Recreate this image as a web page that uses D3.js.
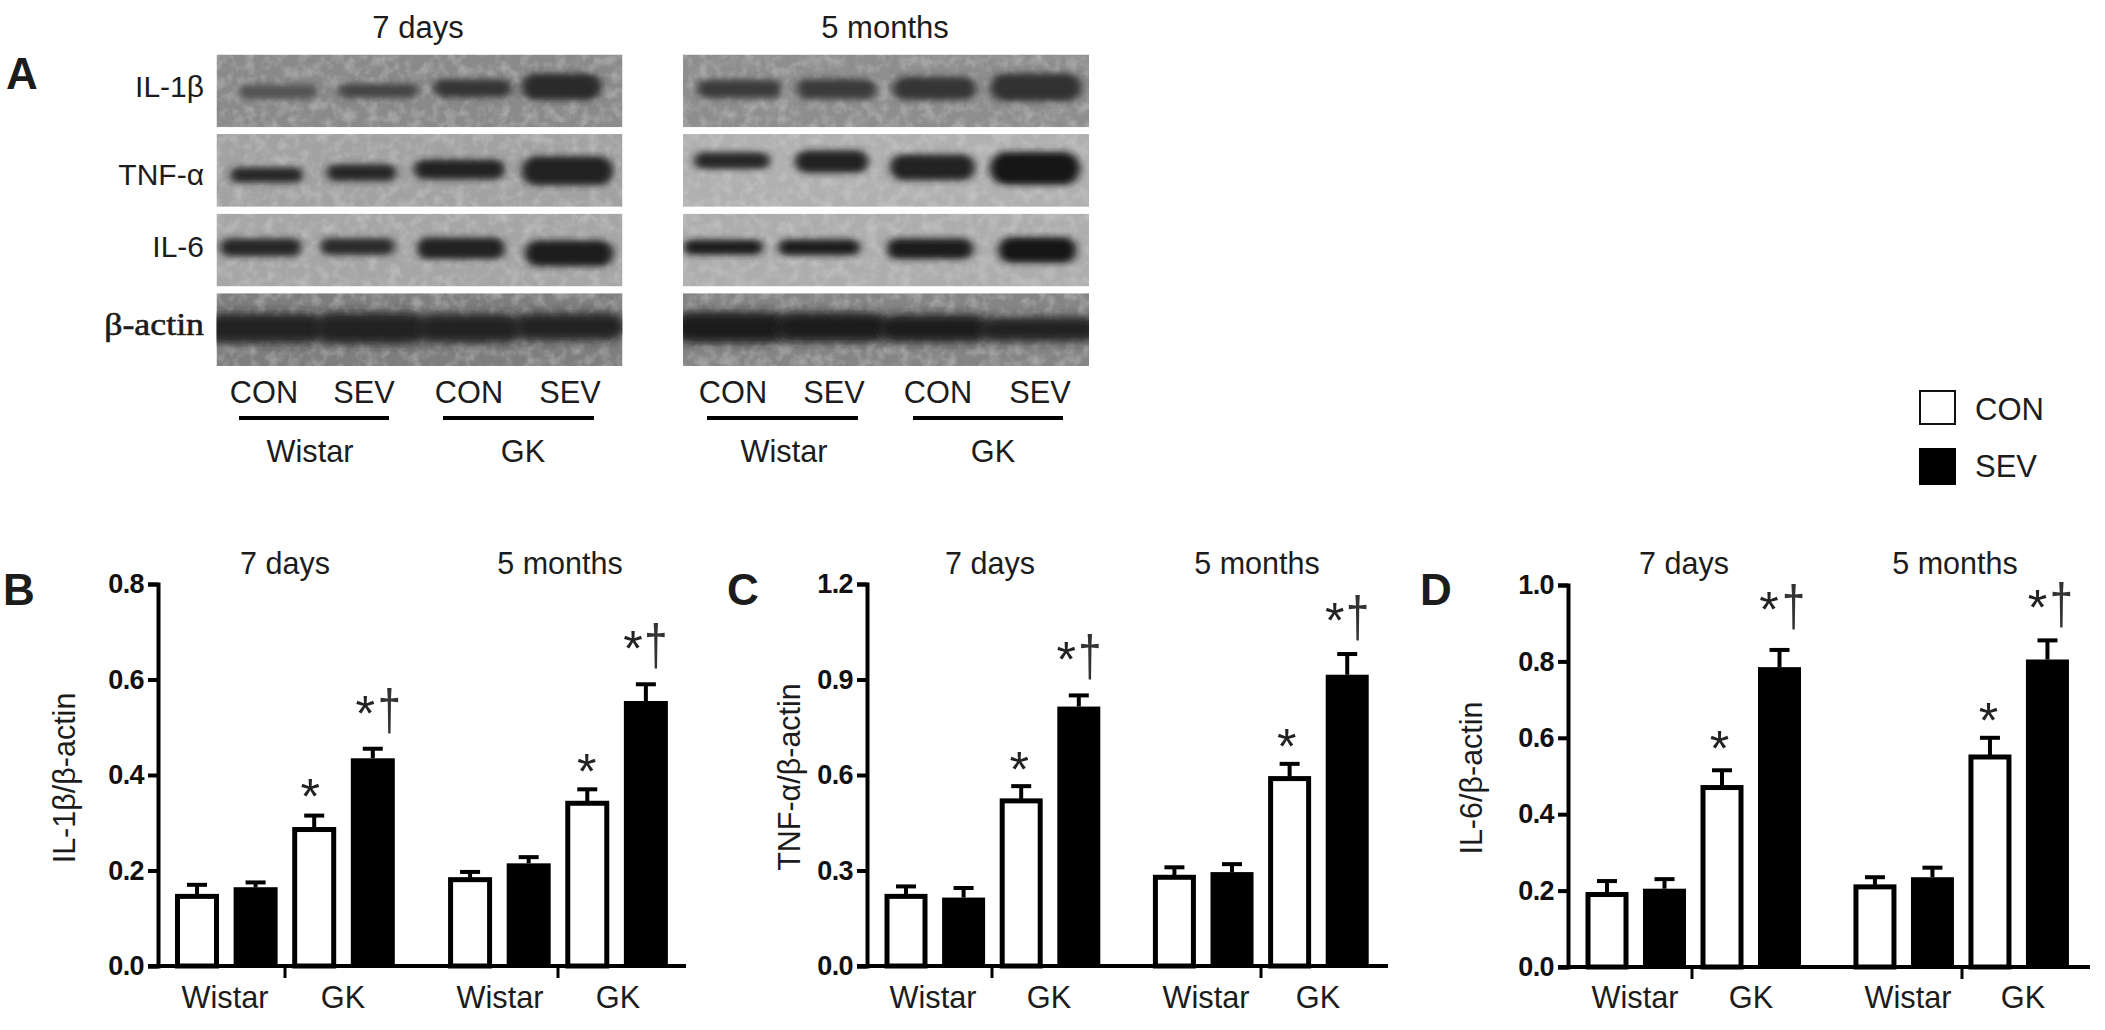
<!DOCTYPE html>
<html><head><meta charset="utf-8">
<script src="https://cdn.jsdelivr.net/npm/d3@7"></script>
<style>
html,body{margin:0;padding:0;background:#fff}
svg{display:block}
text{fill:#1c1c1c}
.tick text{font-family:"Liberation Sans",Arial,sans-serif;font-weight:bold;font-size:27px;letter-spacing:-0.6px;fill:#111}
</style></head><body>
<svg id="c" width="2105" height="1030"></svg>
<script>
// ---- data ----
const groups = ["Wistar","GK","Wistar","GK"];
const periods = ["7 days","5 months"];
const treatments = ["CON","SEV"];
const ilbetaMean = [0.15,0.165,0.29,0.435,0.185,0.215,0.345,0.555];
const ilbetaTop  = [0.17,0.175,0.315,0.455,0.197,0.228,0.37,0.59];
const tnfMean = [0.225,0.215,0.525,0.815,0.285,0.295,0.595,0.915];
const tnfTop  = [0.25,0.245,0.565,0.85,0.31,0.32,0.635,0.98];
const il6Mean = [0.195,0.205,0.475,0.785,0.215,0.235,0.555,0.805];
const il6Top  = [0.225,0.23,0.515,0.83,0.235,0.26,0.6,0.855];
const sigMarks = ["","","*","*†","","","*","*†"];
const ilbetaTicks = [0,0.2,0.4,0.6,0.8];
const tnfTicks = [0,0.3,0.6,0.9,1.2];
const il6Ticks = [0,0.2,0.4,0.6,0.8,1.0];
const blotRows = ["IL-1β","TNF-α","IL-6","β-actin"];
// band strength per lane (0-1)
const bandsDays = [[0.28,0.42,0.58,0.68],[0.72,0.72,0.75,0.76],[0.72,0.68,0.76,0.82],[0.78,0.78,0.78,0.76]];
const bandsMonths = [[0.52,0.52,0.58,0.6],[0.7,0.76,0.78,0.9],[0.82,0.82,0.82,0.88],[0.8,0.8,0.8,0.78]];

// ---- layout (not data) ----
const bgDays = ["#8a8a8a","#a2a2a2","#a6a6a6","#7e7e7e"];
const bgMonths = ["#8e8e8e","#b0b0b0","#adadad","#858585"];
// band boxes [left,right,centre,height] in blot-crop units (3 units = 1px)
const boxesDays = [
 [[85,325,125,30],[385,625,122,30],[670,905,115,38],[935,1175,110,55]],
 [[60,280,375,32],[350,560,368,36],[612,885,358,42],[935,1210,362,62]],
 [[30,275,592,38],[330,555,590,36],[620,885,595,46],[945,1210,610,55]],
 [[-20,345,835,72],[315,655,835,76],[625,935,835,70],[910,1245,830,66]]];
const boxesMonths = [
 [[50,305,117,38],[350,590,117,42],[638,890,115,48],[930,1205,112,58]],
 [[42,270,332,36],[345,565,335,48],[630,885,352,55],[930,1200,355,70]],
 [[10,250,592,32],[295,540,592,34],[620,880,596,44],[955,1190,600,55]],
 [[-20,320,832,76],[285,625,832,72],[595,925,835,68],[895,1260,838,60]]];

const svg = d3.select("#c");
const defs = svg.append("defs");
const f = defs.append("filter").attr("id","noise").attr("x",0).attr("y",0).attr("width","100%").attr("height","100%");
f.append("feTurbulence").attr("type","fractalNoise").attr("baseFrequency",0.09).attr("numOctaves",3).attr("seed",4).attr("result","n");
f.append("feColorMatrix").attr("in","n").attr("type","matrix").attr("values","0 0 0 0 0.8 0 0 0 0 0.8 0 0 0 0 0.8 0.6 0 0 0 -0.25").attr("result","g");
f.append("feMerge").call(m=>{m.append("feMergeNode").attr("in","SourceGraphic");m.append("feMergeNode").attr("in","g");});
const blur = defs.append("filter").attr("id","soft").attr("x","-20%").attr("y","-80%").attr("width","140%").attr("height","260%");
blur.append("feGaussianBlur").attr("stdDeviation","4 3");
const blurWide = defs.append("filter").attr("id","softWide").attr("x","-20%").attr("y","-60%").attr("width","140%").attr("height","220%");
blurWide.append("feGaussianBlur").attr("stdDeviation","5 5");

function label(x,y,t,o={}){
  const sx=o.sx||1;
  return svg.append("text").attr("text-anchor",o.anchor||"middle")
    .attr("font-size",o.size||32).attr("font-weight",o.weight||"normal")
    .style("font-family",o.family||'"Liberation Sans",Arial,sans-serif')
    .style("fill",o.color||null).attr("stroke",o.stroke||null).attr("stroke-width",o.stroke?0.6:null)
    .attr("transform",`translate(${x},${y})${o.rot?" rotate(-90)":""} scale(${sx},1)`).text(t);
}
const TXT={size:32,sx:0.96};

// ---- panel A: blots ----
const rowY = d3.scaleBand().domain(blotRows).range([54.5,366]).paddingInner(0.085);
const blots = [
 {x0:216.5,x1:622.5,crop:210,boxes:boxesDays,vals:bandsDays,bg:bgDays},
 {x0:683,x1:1089,crop:680,boxes:boxesMonths,vals:bandsMonths,bg:bgMonths}];
const shade = d3.scaleLinear().domain([0,1]).range(["#6e6e6e","#0a0a0a"]);
const cropY = d3.scaleLinear().domain([0,960]).range([50,370]);
const thick = {"IL-1β":1.45,"TNF-α":1.4,"IL-6":1.4,"β-actin":1.25};
blots.forEach((b,bi)=>{
  const cropX = d3.scaleLinear().domain([0,1260]).range([b.crop,b.crop+420]);
  blotRows.forEach((r,ri)=>{
    const id="clip"+bi+ri;
    defs.append("clipPath").attr("id",id).append("rect").attr("x",b.x0).attr("y",rowY(r)).attr("width",b.x1-b.x0).attr("height",rowY.bandwidth());
    const g = svg.append("g").attr("clip-path",`url(#${id})`);
    g.append("rect").attr("x",b.x0).attr("y",rowY(r)).attr("width",b.x1-b.x0).attr("height",rowY.bandwidth()).attr("fill",b.bg[ri]).attr("filter","url(#noise)");
    const isActin = r==="β-actin";
    const bx=b.boxes[ri], k=thick[r];
    g.selectAll("rect.band").data(b.vals[ri]).join("rect").attr("class","band")
      .attr("x",(d,i)=>cropX(bx[i][0])).attr("width",(d,i)=>cropX(bx[i][1])-cropX(bx[i][0]))
      .attr("y",(d,i)=>cropY(bx[i][2]-k*bx[i][3]/2)).attr("height",(d,i)=>cropY(k*bx[i][3])-cropY(0))
      .attr("rx",(d,i)=>isActin?18:(k*bx[i][3]/6)).attr("fill",d=>shade(d)).attr("filter",isActin?"url(#softWide)":"url(#soft)");
  });
});
blotRows.forEach((r,i)=>{
  const yb=[97,185,257,335][i];
  if(r==="β-actin") label(204,yb,r,{anchor:"end",family:"Liberation Serif",size:32,sx:1.12,stroke:"#1c1c1c"});
  else label(204,yb,r,{anchor:"end",size:30});
});
label(418,38,periods[0],{size:31}); label(885,38,periods[1],{size:31});
[[264,364,469,570],[733,834,938,1040]].forEach(cs=>cs.forEach((c,i)=>label(c,403,treatments[i%2],TXT)));
[[239,389],[443,594],[707,858],[913,1063]].forEach(s=>svg.append("line").attr("x1",s[0]).attr("x2",s[1]).attr("y1",418).attr("y2",418).attr("stroke","#000").attr("stroke-width",4));
[[310,0],[523,1],[784,2],[993,3]].forEach(p=>label(p[0],462,groups[p[1]],TXT));
label(22,89,"A",{size:44,weight:"bold"});

// ---- legend ----
svg.append("rect").attr("x",1920).attr("y",391).attr("width",35).attr("height",33).attr("fill","#fff").attr("stroke","#111").attr("stroke-width",2);
svg.append("rect").attr("x",1919).attr("y",448).attr("width",37).attr("height",37).attr("fill","#000");
label(1975,420,treatments[0],{anchor:"start",size:31}); label(1975,477,treatments[1],{anchor:"start",size:31});

// ---- bar panels ----
const slots = [0,1,2,3,4.66,5.66,6.66,7.66];
const panels = [
 {letter:"B",lx:19,mean:ilbetaMean,top:ilbetaTop,ticks:ilbetaTicks,max:0.8,axisX:158,endX:686,y0:966,y1:584,first:197,step:58.6,bw:44,sep:[285,558],
  ylab:"IL-1β/β-actin",ylx:75,yly:778,tx:[285,560],gx:[225,343,500,618],
  starDx:{2:-4,3:-7.5,6:-0.5,7:-13},dagDx:{3:16.5,7:10},markDy:{2:-2,3:-18,6:0,7:-18}},
 {letter:"C",lx:743,mean:tnfMean,top:tnfTop,ticks:tnfTicks,max:1.2,axisX:867,endX:1388,y0:966,y1:584,first:906,step:57.6,bw:43,sep:[992,1261],
  ylab:"TNF-α/β-actin",ylx:800,yly:777,tx:[990,1257],gx:[933,1049,1206,1318],
  starDx:{2:-2,3:-12.5,6:-3,7:-12.5},dagDx:{3:11,7:10.5},markDy:{2:1,3:-18,6:0,7:-16}},
 {letter:"D",lx:1436,mean:il6Mean,top:il6Top,ticks:il6Ticks,max:1.0,axisX:1568,endX:2090,y0:967,y1:585,first:1607,step:57.5,bw:43,sep:[1692,1962],
  ylab:"IL-6/β-actin",ylx:1482,yly:778,tx:[1684,1955],gx:[1635,1751,1908,2023],
  starDx:{2:-2.5,3:-10.5,6:-1.5,7:-10},dagDx:{3:14,7:14},markDy:{2:-4,3:-23,6:0,7:-15}}];
panels.forEach(p=>{
  const y = d3.scaleLinear().domain([0,p.max]).range([p.y0,p.y1]);
  const x = d3.scaleLinear().domain([0,1]).range([p.first,p.first+p.step]);
  const g = svg.append("g");
  p.top.forEach((t,i)=>{
    const cx=x(slots[i]);
    g.append("line").attr("x1",cx).attr("x2",cx).attr("y1",y(p.mean[i])).attr("y2",y(t)).attr("stroke","#000").attr("stroke-width",4);
    g.append("line").attr("x1",cx-10).attr("x2",cx+10).attr("y1",y(t)).attr("y2",y(t)).attr("stroke","#000").attr("stroke-width",4);
  });
  g.selectAll("rect.bar").data(p.mean).join("rect").attr("class","bar")
    .attr("x",(d,i)=>x(slots[i])-p.bw/2+(i%2?0:2.5)).attr("y",(d,i)=>y(d)+(i%2?0:2))
    .attr("width",(d,i)=>p.bw-(i%2?0:5)).attr("height",(d,i)=>p.y0-y(d)-(i%2?0:2))
    .attr("fill",(d,i)=>i%2?"#000":"#fff").attr("stroke",(d,i)=>i%2?"none":"#000").attr("stroke-width",5);
  const ya = d3.axisLeft(y).tickValues(p.ticks).tickFormat(d3.format(".1f")).tickSize(10).tickPadding(4);
  svg.append("g").attr("transform",`translate(${p.axisX},0)`).call(ya)
    .call(a=>a.selectAll("line,path").attr("stroke","#000").attr("stroke-width",4));
  svg.append("line").attr("x1",p.axisX-10).attr("x2",p.endX).attr("y1",p.y0).attr("y2",p.y0).attr("stroke","#000").attr("stroke-width",4);
  p.sep.forEach(s=>svg.append("line").attr("x1",s).attr("x2",s).attr("y1",p.y0).attr("y2",p.y0+12).attr("stroke","#000").attr("stroke-width",3));
  sigMarks.forEach((m,i)=>{
    if(!m) return;
    const cx=x(slots[i]), top=y(p.top[i]);
    label(cx+p.starDx[i],top+p.markDy[i],"*",{size:50,color:"#222"});
    if(m.includes("†")) label(cx+p.dagDx[i],top+p.markDy[i]-1,"†",{size:58,sx:0.72,color:"#333"});
  });
  label(p.ylx,p.yly,p.ylab,{rot:true,size:30.5});
  periods.forEach((t,i)=>label(p.tx[i],574,t,{size:30.5}));
  groups.forEach((t,i)=>label(p.gx[i],1008,t,TXT));
  label(p.lx,605,p.letter,{size:44,weight:"bold"});
});
</script></body></html>
